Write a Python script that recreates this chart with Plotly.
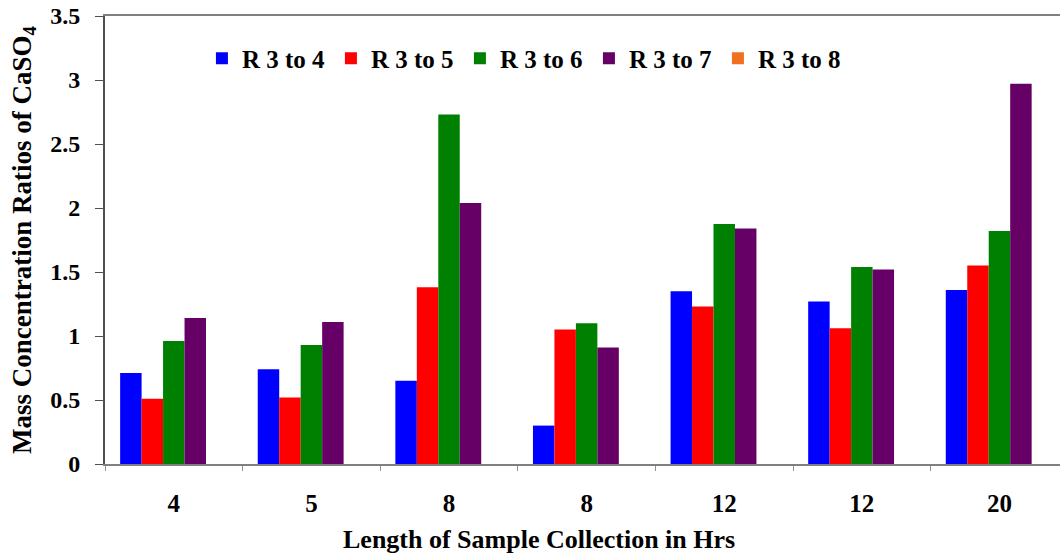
import plotly.graph_objects as go

# Sampling durations (hours) for each run; two durations repeat
hours = ["4", "5", "8", "8", "12", "12", "20"]
series_names = ["R 3 to 4", "R 3 to 5", "R 3 to 6", "R 3 to 7", "R 3 to 8"]
r3_to_4 = [0.71, 0.74, 0.65, 0.30, 1.35, 1.27, 1.36]
r3_to_5 = [0.51, 0.52, 1.38, 1.05, 1.23, 1.06, 1.55]
r3_to_6 = [0.96, 0.93, 2.73, 1.10, 1.875, 1.54, 1.82]
r3_to_7 = [1.14, 1.11, 2.04, 0.91, 1.84, 1.52, 2.97]
r3_to_8 = [None, None, None, None, None, None, None]
colors = ["#0000FF", "#FF0000", "#008000", "#660066", "#F07020"]

positions = list(range(len(hours)))
font_family = "Liberation Serif"

fig = go.Figure()
for name, vals, col in zip(series_names,
                           [r3_to_4, r3_to_5, r3_to_6, r3_to_7, r3_to_8],
                           colors):
    fig.add_trace(go.Bar(x=positions, y=vals, name="<b>" + name + "</b>",
                         marker=dict(color=col, line=dict(width=0))))

fig.update_layout(
    width=1060, height=559,
    margin=dict(l=105, r=0, t=16, b=95),
    paper_bgcolor="white", plot_bgcolor="white",
    barmode="group", bargap=0.22, bargroupgap=0,
    font=dict(family=font_family, color="black"),
    legend=dict(orientation="h", x=0.1015, xanchor="left", y=0.905,
                yanchor="middle", font=dict(size=25, family=font_family),
                entrywidth=84, entrywidthmode="pixels",
                bgcolor="rgba(0,0,0,0)", itemclick=False),
    xaxis=dict(
        range=[-0.5, 6.44], tickvals=positions,
        ticktext=["<b>" + h + "</b>" for h in hours],
        ticks="", ticklabelstandoff=16, showgrid=False, zeroline=False,
        showline=True, linecolor="#808080", linewidth=2, mirror=True,
        tickfont=dict(size=25, family=font_family),
        minor=dict(tickvals=[p - 0.5 for p in positions], ticks="outside",
                   ticklen=5, tickcolor="#909090", tickwidth=1),
    ),
    yaxis=dict(
        range=[0, 3.5], dtick=0.5, tickformat="~g",
        tickprefix="<b>", ticksuffix="</b>",
        ticks="outside", ticklen=8, tickcolor="#505050", tickwidth=1,
        ticklabelstandoff=10,
        showgrid=False, zeroline=False,
        showline=True, linecolor="#505050", linewidth=2,
        tickfont=dict(size=24, family=font_family),
        title=dict(text="<b>Mass Concentration Ratios of CaSO<sub>4</sub></b>",
                   font=dict(size=27, family=font_family), standoff=11),
    ),
    annotations=[dict(
        text="<b>Length of Sample Collection in Hrs</b>",
        xref="paper", yref="paper", x=0.454, y=0, yshift=-92,
        xanchor="center", yanchor="bottom", showarrow=False,
        font=dict(size=26, family=font_family, color="black"),
    )],
)

fig.write_html("out.html")
